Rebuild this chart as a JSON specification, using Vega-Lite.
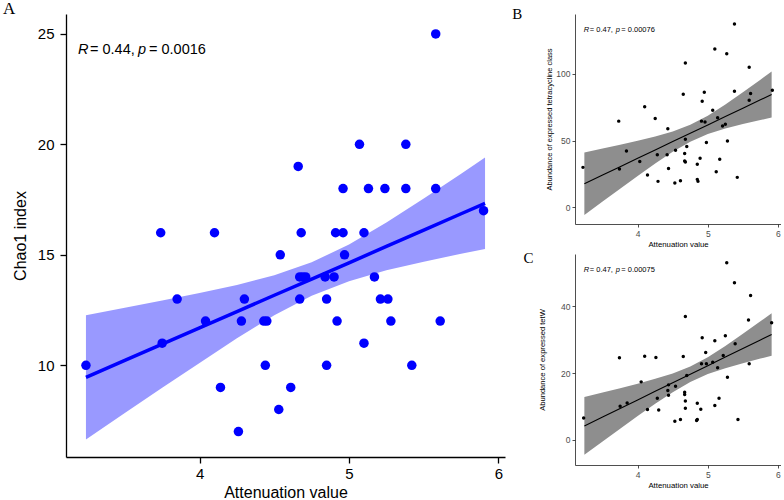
{
  "$schema": "https://vega.github.io/schema/vega-lite/v6.json",
  "padding": {"left": 3, "top": 0, "right": 0, "bottom": 0},
  "background": "white",
  "spacing": 7,
  "config": {"view": {"stroke": null}, "axis": {"grid": false}},
  "datasets": {
    "a_pts": [
      {"x": 5.58, "y": 25},
      {"x": 5.07, "y": 20}, {"x": 5.38, "y": 20},
      {"x": 4.66, "y": 19},
      {"x": 4.96, "y": 18}, {"x": 5.13, "y": 18}, {"x": 5.24, "y": 18}, {"x": 5.38, "y": 18}, {"x": 5.58, "y": 18},
      {"x": 5.90, "y": 17},
      {"x": 3.74, "y": 16}, {"x": 4.10, "y": 16}, {"x": 4.68, "y": 16}, {"x": 4.91, "y": 16}, {"x": 4.96, "y": 16}, {"x": 5.10, "y": 16},
      {"x": 4.54, "y": 15}, {"x": 4.97, "y": 15},
      {"x": 4.67, "y": 14}, {"x": 4.69, "y": 14}, {"x": 4.71, "y": 14}, {"x": 4.84, "y": 14}, {"x": 4.90, "y": 14}, {"x": 5.17, "y": 14},
      {"x": 3.85, "y": 13}, {"x": 4.30, "y": 13}, {"x": 4.67, "y": 13}, {"x": 4.85, "y": 13}, {"x": 5.21, "y": 13}, {"x": 5.26, "y": 13},
      {"x": 4.04, "y": 12}, {"x": 4.28, "y": 12}, {"x": 4.43, "y": 12}, {"x": 4.45, "y": 12}, {"x": 4.92, "y": 12}, {"x": 5.28, "y": 12}, {"x": 5.61, "y": 12},
      {"x": 3.75, "y": 11}, {"x": 5.10, "y": 11},
      {"x": 3.24, "y": 10}, {"x": 4.44, "y": 10}, {"x": 4.85, "y": 10}, {"x": 5.42, "y": 10},
      {"x": 4.14, "y": 9}, {"x": 4.61, "y": 9},
      {"x": 4.53, "y": 8},
      {"x": 4.26, "y": 7}
    ],
    "a_fit": [
      {"x": 3.24, "fit": 9.45, "lo": 6.64, "hi": 12.26},
      {"x": 3.5, "fit": 10.22, "lo": 7.84, "hi": 12.60},
      {"x": 3.75, "fit": 10.96, "lo": 8.98, "hi": 12.93},
      {"x": 4.0, "fit": 11.69, "lo": 10.11, "hi": 13.27},
      {"x": 4.25, "fit": 12.43, "lo": 11.22, "hi": 13.64},
      {"x": 4.5, "fit": 13.17, "lo": 12.26, "hi": 14.08},
      {"x": 4.75, "fit": 13.90, "lo": 13.15, "hi": 14.66},
      {"x": 5.0, "fit": 14.64, "lo": 13.81, "hi": 15.47},
      {"x": 5.25, "fit": 15.38, "lo": 14.30, "hi": 16.46},
      {"x": 5.5, "fit": 16.12, "lo": 14.69, "hi": 17.55},
      {"x": 5.75, "fit": 16.86, "lo": 15.05, "hi": 18.67},
      {"x": 5.91, "fit": 17.33, "lo": 15.26, "hi": 19.40}
    ],
    "b_pts": [
      {"x": 3.22, "y": 29.9}, {"x": 3.73, "y": 64.6}, {"x": 3.74, "y": 28.6}, {"x": 3.84, "y": 42.2},
      {"x": 4.03, "y": 34.3}, {"x": 4.10, "y": 75.4}, {"x": 4.14, "y": 24.1}, {"x": 4.25, "y": 66.6},
      {"x": 4.28, "y": 39.3}, {"x": 4.29, "y": 19.4}, {"x": 4.43, "y": 58.9}, {"x": 4.42, "y": 39.3},
      {"x": 4.44, "y": 29.1}, {"x": 4.53, "y": 18.1}, {"x": 4.54, "y": 42.8}, {"x": 4.61, "y": 19.8},
      {"x": 4.65, "y": 84.8}, {"x": 4.68, "y": 108.2}, {"x": 4.68, "y": 51.0}, {"x": 4.67, "y": 40.3},
      {"x": 4.67, "y": 34.6}, {"x": 4.68, "y": 34.0}, {"x": 4.70, "y": 45.5}, {"x": 4.85, "y": 32.3},
      {"x": 4.85, "y": 20.9}, {"x": 4.86, "y": 19.4}, {"x": 4.89, "y": 36.8}, {"x": 4.92, "y": 79.6},
      {"x": 4.95, "y": 86.3}, {"x": 4.91, "y": 64.6}, {"x": 4.96, "y": 63.9}, {"x": 4.98, "y": 48.5},
      {"x": 5.07, "y": 72.8}, {"x": 5.10, "y": 118.7}, {"x": 5.12, "y": 26.6}, {"x": 5.14, "y": 67.2},
      {"x": 5.17, "y": 36.0}, {"x": 5.21, "y": 60.9}, {"x": 5.25, "y": 62.2}, {"x": 5.27, "y": 115.1},
      {"x": 5.28, "y": 49.7}, {"x": 5.38, "y": 137.5}, {"x": 5.38, "y": 87.0}, {"x": 5.42, "y": 22.4},
      {"x": 5.59, "y": 105.0}, {"x": 5.59, "y": 80.3}, {"x": 5.61, "y": 85.3}, {"x": 5.92, "y": 87.8}
    ],
    "b_fit": [
      {"x": 3.24, "fit": 17.6, "lo": -5.9, "hi": 41.1},
      {"x": 3.5, "fit": 24.13, "lo": 4.25, "hi": 44.0},
      {"x": 3.75, "fit": 30.40, "lo": 13.92, "hi": 46.88},
      {"x": 4.0, "fit": 36.68, "lo": 23.49, "hi": 49.87},
      {"x": 4.25, "fit": 42.95, "lo": 32.80, "hi": 53.10},
      {"x": 4.5, "fit": 49.23, "lo": 41.60, "hi": 56.86},
      {"x": 4.75, "fit": 55.50, "lo": 49.19, "hi": 61.81},
      {"x": 5.0, "fit": 61.78, "lo": 54.87, "hi": 68.69},
      {"x": 5.25, "fit": 68.05, "lo": 59.00, "hi": 77.10},
      {"x": 5.5, "fit": 74.33, "lo": 62.39, "hi": 86.27},
      {"x": 5.75, "fit": 80.60, "lo": 65.45, "hi": 95.75},
      {"x": 5.91, "fit": 84.62, "lo": 67.31, "hi": 101.93}
    ],
    "c_pts": [
      {"x": 3.23, "y": 6.6}, {"x": 3.74, "y": 24.6}, {"x": 3.75, "y": 10.1}, {"x": 3.85, "y": 11.1},
      {"x": 4.05, "y": 17.4}, {"x": 4.10, "y": 25.1}, {"x": 4.14, "y": 9.1}, {"x": 4.26, "y": 24.7},
      {"x": 4.28, "y": 12.5}, {"x": 4.30, "y": 9.0}, {"x": 4.43, "y": 14.8}, {"x": 4.44, "y": 16.5},
      {"x": 4.44, "y": 13.4}, {"x": 4.53, "y": 5.6}, {"x": 4.54, "y": 16.1}, {"x": 4.61, "y": 6.1},
      {"x": 4.65, "y": 25.0}, {"x": 4.68, "y": 37.0}, {"x": 4.67, "y": 14.3}, {"x": 4.67, "y": 13.6},
      {"x": 4.68, "y": 11.7}, {"x": 4.68, "y": 9.5}, {"x": 4.70, "y": 19.3}, {"x": 4.85, "y": 11.0},
      {"x": 4.84, "y": 5.8}, {"x": 4.85, "y": 6.1}, {"x": 4.90, "y": 9.2}, {"x": 4.92, "y": 30.6},
      {"x": 4.91, "y": 22.8}, {"x": 4.97, "y": 26.2}, {"x": 4.98, "y": 22.8}, {"x": 5.07, "y": 23.3},
      {"x": 5.10, "y": 29.7}, {"x": 5.10, "y": 10.3}, {"x": 5.14, "y": 21.6}, {"x": 5.16, "y": 12.5},
      {"x": 5.22, "y": 25.3}, {"x": 5.25, "y": 31.2}, {"x": 5.27, "y": 53.1}, {"x": 5.28, "y": 18.8},
      {"x": 5.38, "y": 47.1}, {"x": 5.39, "y": 28.8}, {"x": 5.43, "y": 6.1}, {"x": 5.58, "y": 35.9},
      {"x": 5.59, "y": 22.8}, {"x": 5.61, "y": 43.3}, {"x": 5.91, "y": 35.1}
    ],
    "c_fit": [
      {"x": 3.24, "fit": 4.2, "lo": -4.45, "hi": 12.85},
      {"x": 3.5, "fit": 6.87, "lo": -0.45, "hi": 14.19},
      {"x": 3.75, "fit": 9.43, "lo": 3.36, "hi": 15.50},
      {"x": 4.0, "fit": 12.00, "lo": 7.14, "hi": 16.86},
      {"x": 4.25, "fit": 14.56, "lo": 10.82, "hi": 18.30},
      {"x": 4.5, "fit": 17.13, "lo": 14.32, "hi": 19.94},
      {"x": 4.75, "fit": 19.69, "lo": 17.36, "hi": 22.02},
      {"x": 5.0, "fit": 22.26, "lo": 19.72, "hi": 24.80},
      {"x": 5.25, "fit": 24.82, "lo": 21.48, "hi": 28.16},
      {"x": 5.5, "fit": 27.39, "lo": 22.99, "hi": 31.79},
      {"x": 5.75, "fit": 29.95, "lo": 24.37, "hi": 35.53},
      {"x": 5.91, "fit": 31.59, "lo": 25.21, "hi": 37.97}
    ]
  },
  "hconcat": [
    {
      "vconcat": [
        {
          "width": 439,
          "height": 443,
          "title": {"text": "A", "anchor": "start", "frame": "group", "dx": -63, "offset": -4, "font": "Liberation Serif", "fontSize": 17, "fontWeight": "normal", "color": "black"},
          "layer": [
            {
              "data": {"name": "a_fit"},
              "mark": {"type": "area", "color": "#9999ff", "opacity": 1},
              "encoding": {
                "x": {"field": "x", "type": "quantitative", "title": "Attenuation value",
                  "scale": {"domain": [3.1065, 6.0435], "nice": false, "zero": false},
                  "axis": {"values": [4, 5, 6], "format": "d", "domainColor": "black", "domainWidth": 1.3, "tickColor": "black", "tickWidth": 1.3, "tickSize": 6, "labelFont": "Liberation Sans", "labelFontSize": 15, "labelColor": "black", "labelPadding": 3, "labelFlush": false, "titleFont": "Liberation Sans", "titleFontSize": 16, "titleFontWeight": "normal", "titleColor": "black", "titlePadding": 3}},
                "y": {"field": "lo", "type": "quantitative", "title": "Chao1 index",
                  "scale": {"domain": [5.85, 25.9], "nice": false, "zero": false},
                  "axis": {"values": [10, 15, 20, 25], "format": "d", "domainColor": "black", "domainWidth": 1.3, "tickColor": "black", "tickWidth": 1.3, "tickSize": 6, "labelFont": "Liberation Sans", "labelFontSize": 15, "labelColor": "black", "labelPadding": 6, "titleFont": "Liberation Sans", "titleFontSize": 16, "titleFontWeight": "normal", "titleColor": "black", "titlePadding": 9}},
                "y2": {"field": "hi"}
              }
            },
            {
              "data": {"name": "a_pts"},
              "mark": {"type": "circle", "color": "#0000ff", "size": 90, "opacity": 1},
              "encoding": {
                "x": {"field": "x", "type": "quantitative", "title": "Attenuation value"},
                "y": {"field": "y", "type": "quantitative", "title": "Chao1 index"}
              }
            },
            {
              "data": {"name": "a_fit"},
              "mark": {"type": "line", "color": "#0000ff", "strokeWidth": 3.5},
              "encoding": {
                "x": {"field": "x", "type": "quantitative", "title": "Attenuation value"},
                "y": {"field": "fit", "type": "quantitative", "title": "Chao1 index"}
              }
            },
            {
              "data": {"values": [{}]},
              "mark": {"type": "text", "align": "left", "baseline": "alphabetic", "font": "Liberation Sans", "fontSize": 14.5, "fontStyle": "italic", "color": "black", "dx": 0},
              "encoding": {"x": {"datum": 3.187, "type": "quantitative"}, "y": {"datum": 24.09, "type": "quantitative"}, "text": {"value": "R"}}
            },
            {
              "data": {"values": [{}]},
              "mark": {"type": "text", "align": "left", "baseline": "alphabetic", "font": "Liberation Sans", "fontSize": 14.5, "color": "black", "dx": 12},
              "encoding": {"x": {"datum": 3.187, "type": "quantitative"}, "y": {"datum": 24.09, "type": "quantitative"}, "text": {"value": "= 0.44,"}}
            },
            {
              "data": {"values": [{}]},
              "mark": {"type": "text", "align": "left", "baseline": "alphabetic", "font": "Liberation Sans", "fontSize": 14.5, "fontStyle": "italic", "color": "black", "dx": 60},
              "encoding": {"x": {"datum": 3.187, "type": "quantitative"}, "y": {"datum": 24.09, "type": "quantitative"}, "text": {"value": "p"}}
            },
            {
              "data": {"values": [{}]},
              "mark": {"type": "text", "align": "left", "baseline": "alphabetic", "font": "Liberation Sans", "fontSize": 14.5, "color": "black", "dx": 71},
              "encoding": {"x": {"datum": 3.187, "type": "quantitative"}, "y": {"datum": 24.09, "type": "quantitative"}, "text": {"value": "= 0.0016"}}
            }
          ]
        }
      ]
    },
    {
      "spacing": 2,
      "vconcat": [
        {
          "width": 206,
          "height": 210,
          "title": {"text": "B", "orient": "left", "anchor": "end", "frame": "group", "angle": 0, "align": "right", "baseline": "alphabetic", "offset": 13.5, "dy": 5, "font": "Liberation Serif", "fontSize": 15, "fontWeight": "normal", "color": "black"},
          "layer": [
            {
              "data": {"name": "b_fit"},
              "mark": {"type": "area", "color": "#8e8e8e", "opacity": 1},
              "encoding": {
                "x": {"field": "x", "type": "quantitative", "title": "Attenuation value",
                  "scale": {"domain": [3.1065, 6.0435], "nice": false, "zero": false},
                  "axis": {"values": [4, 5, 6], "format": "d", "domainColor": "#222222", "domainWidth": 0.8, "tickColor": "#222222", "tickWidth": 0.8, "tickSize": 3, "labelFont": "Liberation Sans", "labelFontSize": 8.5, "labelColor": "#4d4d4d", "labelPadding": 2, "labelFlush": false, "titleFont": "Liberation Sans", "titleFontSize": 7.8, "titleFontWeight": "normal", "titleColor": "black", "titlePadding": 3}},
                "y": {"field": "lo", "type": "quantitative", "title": "Abundance of expressed tetracycline class",
                  "scale": {"domain": [-12.6, 145], "nice": false, "zero": false},
                  "axis": {"values": [0, 50, 100], "format": "d", "domainColor": "#222222", "domainWidth": 0.8, "tickColor": "#222222", "tickWidth": 0.8, "tickSize": 3, "labelFont": "Liberation Sans", "labelFontSize": 8.5, "labelColor": "#4d4d4d", "labelPadding": 2, "titleFont": "Liberation Sans", "titleFontSize": 7.5, "titleFontWeight": "normal", "titleColor": "black", "titlePadding": 2}},
                "y2": {"field": "hi"}
              }
            },
            {
              "data": {"name": "b_pts"},
              "mark": {"type": "circle", "color": "black", "size": 12, "opacity": 1},
              "encoding": {
                "x": {"field": "x", "type": "quantitative", "title": "Attenuation value"},
                "y": {"field": "y", "type": "quantitative", "title": "Abundance of expressed tetracycline class"}
              }
            },
            {
              "data": {"name": "b_fit"},
              "mark": {"type": "line", "color": "black", "strokeWidth": 1.1},
              "encoding": {
                "x": {"field": "x", "type": "quantitative", "title": "Attenuation value"},
                "y": {"field": "fit", "type": "quantitative", "title": "Abundance of expressed tetracycline class"}
              }
            },
            {
              "data": {"values": [{}]},
              "mark": {"type": "text", "align": "left", "baseline": "alphabetic", "font": "Liberation Sans", "fontSize": 7.5, "fontStyle": "italic", "color": "black", "dx": 0},
              "encoding": {"x": {"datum": 3.232, "type": "quantitative"}, "y": {"datum": 131.6, "type": "quantitative"}, "text": {"value": "R"}}
            },
            {
              "data": {"values": [{}]},
              "mark": {"type": "text", "align": "left", "baseline": "alphabetic", "font": "Liberation Sans", "fontSize": 7.5, "color": "black", "dx": 6},
              "encoding": {"x": {"datum": 3.232, "type": "quantitative"}, "y": {"datum": 131.6, "type": "quantitative"}, "text": {"value": "= 0.47,"}}
            },
            {
              "data": {"values": [{}]},
              "mark": {"type": "text", "align": "left", "baseline": "alphabetic", "font": "Liberation Sans", "fontSize": 7.5, "fontStyle": "italic", "color": "black", "dx": 32},
              "encoding": {"x": {"datum": 3.232, "type": "quantitative"}, "y": {"datum": 131.6, "type": "quantitative"}, "text": {"value": "p"}}
            },
            {
              "data": {"values": [{}]},
              "mark": {"type": "text", "align": "left", "baseline": "alphabetic", "font": "Liberation Sans", "fontSize": 7.5, "color": "black", "dx": 37.5},
              "encoding": {"x": {"datum": 3.232, "type": "quantitative"}, "y": {"datum": 131.6, "type": "quantitative"}, "text": {"value": "= 0.00076"}}
            }
          ]
        },
        {
          "width": 206,
          "height": 211,
          "title": {"text": "C", "orient": "left", "anchor": "end", "frame": "group", "angle": 0, "align": "right", "baseline": "alphabetic", "offset": -5, "dy": 9, "font": "Liberation Serif", "fontSize": 15, "fontWeight": "normal", "color": "black"},
          "layer": [
            {
              "data": {"name": "c_fit"},
              "mark": {"type": "area", "color": "#8e8e8e", "opacity": 1},
              "encoding": {
                "x": {"field": "x", "type": "quantitative", "title": "Attenuation value",
                  "scale": {"domain": [3.1065, 6.0435], "nice": false, "zero": false},
                  "axis": {"values": [4, 5, 6], "format": "d", "domainColor": "#222222", "domainWidth": 0.8, "tickColor": "#222222", "tickWidth": 0.8, "tickSize": 3, "labelFont": "Liberation Sans", "labelFontSize": 8.5, "labelColor": "#4d4d4d", "labelPadding": 2, "labelFlush": false, "titleFont": "Liberation Sans", "titleFontSize": 7.8, "titleFontWeight": "normal", "titleColor": "black", "titlePadding": 3}},
                "y": {"field": "lo", "type": "quantitative", "title": "Abundance of expressed tetW",
                  "scale": {"domain": [-7.5, 55.7], "nice": false, "zero": false},
                  "axis": {"values": [0, 20, 40], "format": "d", "domainColor": "#222222", "domainWidth": 0.8, "tickColor": "#222222", "tickWidth": 0.8, "tickSize": 3, "labelFont": "Liberation Sans", "labelFontSize": 8.5, "labelColor": "#4d4d4d", "labelPadding": 2, "titleFont": "Liberation Sans", "titleFontSize": 7.6, "titleFontWeight": "normal", "titleColor": "black", "titlePadding": 14}},
                "y2": {"field": "hi"}
              }
            },
            {
              "data": {"name": "c_pts"},
              "mark": {"type": "circle", "color": "black", "size": 12, "opacity": 1},
              "encoding": {
                "x": {"field": "x", "type": "quantitative", "title": "Attenuation value"},
                "y": {"field": "y", "type": "quantitative", "title": "Abundance of expressed tetW"}
              }
            },
            {
              "data": {"name": "c_fit"},
              "mark": {"type": "line", "color": "black", "strokeWidth": 1.1},
              "encoding": {
                "x": {"field": "x", "type": "quantitative", "title": "Attenuation value"},
                "y": {"field": "fit", "type": "quantitative", "title": "Abundance of expressed tetW"}
              }
            },
            {
              "data": {"values": [{}]},
              "mark": {"type": "text", "align": "left", "baseline": "alphabetic", "font": "Liberation Sans", "fontSize": 7.5, "fontStyle": "italic", "color": "black", "dx": 0},
              "encoding": {"x": {"datum": 3.232, "type": "quantitative"}, "y": {"datum": 50.4, "type": "quantitative"}, "text": {"value": "R"}}
            },
            {
              "data": {"values": [{}]},
              "mark": {"type": "text", "align": "left", "baseline": "alphabetic", "font": "Liberation Sans", "fontSize": 7.5, "color": "black", "dx": 6},
              "encoding": {"x": {"datum": 3.232, "type": "quantitative"}, "y": {"datum": 50.4, "type": "quantitative"}, "text": {"value": "= 0.47,"}}
            },
            {
              "data": {"values": [{}]},
              "mark": {"type": "text", "align": "left", "baseline": "alphabetic", "font": "Liberation Sans", "fontSize": 7.5, "fontStyle": "italic", "color": "black", "dx": 32},
              "encoding": {"x": {"datum": 3.232, "type": "quantitative"}, "y": {"datum": 50.4, "type": "quantitative"}, "text": {"value": "p"}}
            },
            {
              "data": {"values": [{}]},
              "mark": {"type": "text", "align": "left", "baseline": "alphabetic", "font": "Liberation Sans", "fontSize": 7.5, "color": "black", "dx": 37.5},
              "encoding": {"x": {"datum": 3.232, "type": "quantitative"}, "y": {"datum": 50.4, "type": "quantitative"}, "text": {"value": "= 0.00075"}}
            }
          ]
        }
      ]
    }
  ]
}
